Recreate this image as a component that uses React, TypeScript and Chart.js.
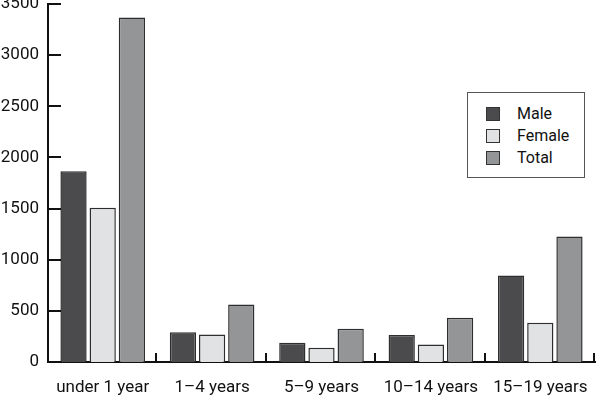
import React, { useEffect, useRef } from "react";
import { Chart, registerables } from "chart.js";

Chart.register(...registerables);

const categories = ["under 1 year", "1–4 years", "5–9 years", "10–14 years", "15–19 years"];
const maleValues = [1865, 292, 188, 263, 845];
const femaleValues = [1508, 270, 140, 172, 383];
const totalValues = [3369, 562, 325, 432, 1228];
const seriesNames = ["Male", "Female", "Total"];
const seriesColors = ["#4b4b4d", "#e1e2e4", "#949597"];
const yTicks = [0, 500, 1000, 1500, 2000, 2500, 3000, 3500];

const FONT = "Roboto, 'Liberation Sans', sans-serif";

const inwardTicks = {
  id: "inwardTicks",
  afterDraw(chart: any) {
    const { ctx, chartArea, scales } = chart;
    const y = scales.y;
    ctx.save();
    ctx.strokeStyle = "#111";
    ctx.lineWidth = 2;
    ctx.beginPath();
    yTicks.forEach((v) => {
      const py = Math.round(y.getPixelForValue(v));
      ctx.moveTo(chartArea.left, py);
      ctx.lineTo(chartArea.left + 13, py);
    });
    const n = categories.length;
    const w = (chartArea.right - chartArea.left) / n;
    for (let i = 1; i <= n; i++) {
      const px = Math.round(chartArea.left + i * w) - 1;
      ctx.moveTo(px, chartArea.bottom);
      ctx.lineTo(px, chartArea.bottom - 9);
    }
    ctx.stroke();
    ctx.restore();
  },
};

export default function App() {
  const ref = useRef<HTMLCanvasElement | null>(null);
  useEffect(() => {
    if (!ref.current) return;
    const values = [maleValues, femaleValues, totalValues];
    const chart = new Chart(ref.current, {
      type: "bar",
      data: {
        labels: categories,
        datasets: seriesNames.map((name, i) => ({
          label: name,
          data: values[i],
          backgroundColor: seriesColors[i],
          borderColor: "#2e2e2e",
          borderWidth: 1.5,
          categoryPercentage: 0.8,
          barPercentage: 0.9,
        })),
      },
      options: {
        animation: false,
        responsive: true,
        maintainAspectRatio: false,
        layout: { padding: { top: 4, right: 1, left: 0, bottom: 0 } },
        plugins: { legend: { display: false }, tooltip: { enabled: false } },
        scales: {
          x: {
            offset: true,
            grid: { display: false, drawTicks: false },
            border: { display: true, color: "#111", width: 2 },
            ticks: { font: { size: 17, family: FONT }, color: "#111", padding: 16, maxRotation: 0 },
            afterFit: (s: any) => {
              s.height = 36;
              s.paddingLeft = 0;
              s.paddingRight = 0;
            },
          },
          y: {
            min: 0,
            max: 3500,
            grid: { display: false, drawTicks: false },
            border: { display: true, color: "#111", width: 2 },
            ticks: {
              stepSize: 500,
              font: { size: 17, family: FONT },
              color: "#111",
              padding: 9,
              callback: (v: any) => String(v),
            },
            afterFit: (s: any) => {
              s.width = 48;
              s.paddingTop = 0;
              s.paddingBottom = 0;
            },
          },
        },
      },
      plugins: [inwardTicks],
    });
    return () => chart.destroy();
  }, []);

  return (
    <div style={{ position: "absolute", left: 0, top: 0, width: 596, height: 398, background: "#fff" }}>
      <canvas ref={ref} />
      <div
        style={{
          position: "absolute",
          left: 467,
          top: 92,
          width: 116,
          height: 84,
          border: "1.5px solid #555",
          background: "#fff",
          fontFamily: FONT,
          fontSize: 16,
          color: "#111",
        }}
      >
        {seriesNames.map((name, i) => (
          <div
            key={name}
            style={{ position: "absolute", left: 18, top: 13 + i * 22, height: 16, display: "flex", alignItems: "center" }}
          >
            <span
              style={{
                display: "inline-block",
                width: 12,
                height: 12,
                background: seriesColors[i],
                border: "1px solid #333",
              }}
            />
            <span style={{ marginLeft: 17, lineHeight: "16px" }}>{name}</span>
          </div>
        ))}
      </div>
    </div>
  );
}
